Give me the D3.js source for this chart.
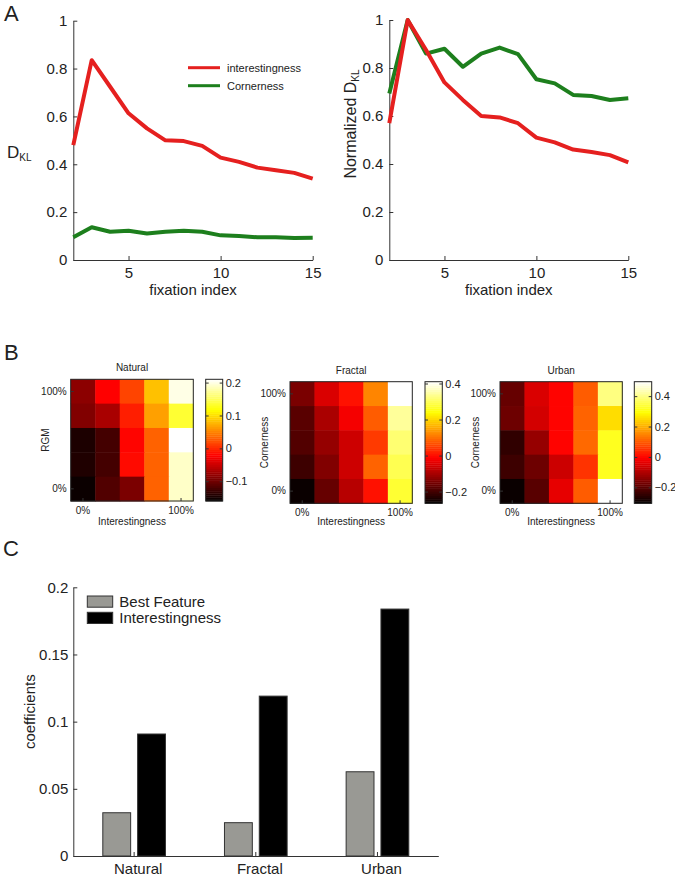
<!DOCTYPE html>
<html><head><meta charset="utf-8">
<script src="https://cdn.jsdelivr.net/npm/d3@7"></script>
<style>
body{margin:0;background:#fff}
svg{display:block}
text{font-family:"Liberation Sans",Arial,Helvetica,sans-serif;fill:#222}
</style>
</head><body>
<svg id="c" width="675" height="877"></svg>
<script>
// ---------- DATA ----------
const fixationIndex = [2,3,4,5,6,7,8,9,10,11,12,13,14,15];
const dklInterestingness = [0.48,0.835,0.724,0.613,0.55,0.50,0.497,0.477,0.428,0.41,0.386,0.375,0.364,0.34];
const dklCornerness      = [0.095,0.137,0.118,0.122,0.111,0.118,0.122,0.118,0.103,0.10,0.095,0.095,0.092,0.093];
const normInterestingness = [0.57,1.0,0.875,0.74,0.667,0.60,0.594,0.57,0.51,0.49,0.46,0.45,0.437,0.407];
const normCornerness      = [0.694,1.0,0.86,0.88,0.805,0.86,0.885,0.858,0.753,0.736,0.688,0.683,0.667,0.674];
const lineTicksX = [5,10,15];
const lineTicksY = [0,0.2,0.4,0.6,0.8,1];
const legendLabelsA = ["interestingness","Cornerness"];

// heatmaps: rows top (100%) -> bottom (0%), columns left (0%) -> right (100%)
const naturalRGM = [
  [-0.084,-0.021, 0.016, 0.084, 0.201],
  [-0.090,-0.068,-0.005, 0.066, 0.136],
  [-0.145,-0.123,-0.019, 0.032, 0.210],
  [-0.143,-0.123,-0.016, 0.032, 0.190],
  [-0.154,-0.116,-0.093, 0.032, 0.190]
];
const fractalCorner = [
  [-0.144,-0.049, 0.005, 0.120, 0.410],
  [-0.177,-0.096,-0.022, 0.079, 0.343],
  [-0.184,-0.117,-0.062, 0.046, 0.316],
  [-0.204,-0.137,-0.062, 0.086, 0.295],
  [-0.255,-0.164,-0.083, 0.005, 0.275]
];
const urbanCorner = [
  [-0.185,-0.049,-0.001, 0.103, 0.395],
  [-0.177,-0.057,-0.001, 0.111, 0.255],
  [-0.249,-0.129,-0.001, 0.119, 0.319],
  [-0.233,-0.177,-0.065, 0.055, 0.319],
  [-0.293,-0.201,-0.033, 0.103, 0.495]
];
const naturalRange = [-0.16, 0.21];
const fractalRange = [-0.265, 0.41];
const urbanRange   = [-0.305, 0.495];
const naturalCbTicks = [-0.1, 0, 0.1, 0.2];
const fractalCbTicks = [-0.2, 0, 0.2, 0.4];
const urbanCbTicks   = [-0.2, 0, 0.2, 0.4];
const heatTitles = ["Natural","Fractal","Urban"];
const heatYLabels = ["RGM","Cornerness","Cornerness"];

// bar chart
const barCategories = ["Natural","Fractal","Urban"];
const bestFeature = [0.0322, 0.0248, 0.0627];
const interestingness = [0.0908, 0.119, 0.1838];
const barSeries = ["Best Feature","Interestingness"];
const barTicksY = [0,0.05,0.1,0.15,0.2];

// ---------- DRAW ----------
const FONT = '"Liberation Sans",Arial,Helvetica,sans-serif';
const svg = d3.select("#c");
svg.append("rect").attr("width",675).attr("height",877).attr("fill","#fff");

function styleAxis(g, fs){
  g.attr("font-family", FONT);
  g.selectAll("path,line").attr("stroke","#333").attr("stroke-width",1);
  g.selectAll("text").attr("font-size",fs).attr("fill","#222");
}
function hot(t){
  t = Math.max(0, Math.min(1, t));
  const r = Math.min(1, t/0.375);
  const g = Math.max(0, Math.min(1, (t-0.375)/0.375));
  const b = Math.max(0, Math.min(1, (t-0.75)/0.25));
  return d3.rgb(r*255, g*255, b*255).toString();
}
const fmtY = d => d===0 ? "0" : d===1 ? "1" : d3.format(".1f")(d);

// Panel labels
[["A",4,21],["B",4,360],["C",3,556]].forEach(([t,x,y])=>{
  svg.append("text").attr("x",x).attr("y",y).attr("font-size",22).text(t);
});

// ---- Panel A ----
const RED = "#e5201f", GREEN = "#1d7f1d";
function linePanel(x0,x1,yTop,yBot,seriesRed,seriesGreen){
  const x = d3.scaleLinear().domain([2,15]).range([x0,x1]);
  const y = d3.scaleLinear().domain([0,1]).range([yBot,yTop]);
  const gx = svg.append("g").attr("transform",`translate(0,${yBot})`)
    .call(d3.axisBottom(x).tickValues(lineTicksX).tickSizeInner(-4).tickSizeOuter(0).tickPadding(7));
  styleAxis(gx,15);
  const gy = svg.append("g").attr("transform",`translate(${x0},0)`)
    .call(d3.axisLeft(y).tickValues(lineTicksY).tickFormat(fmtY).tickSizeInner(-4).tickSizeOuter(0).tickPadding(6));
  styleAxis(gy,15);
  const line = d3.line().x((d,i)=>x(fixationIndex[i])).y(d=>y(d));
  svg.append("path").datum(seriesGreen).attr("d",line).attr("fill","none")
    .attr("stroke",GREEN).attr("stroke-width",4).attr("stroke-linejoin","round");
  svg.append("path").datum(seriesRed).attr("d",line).attr("fill","none")
    .attr("stroke",RED).attr("stroke-width",4).attr("stroke-linejoin","round");
  svg.append("text").attr("x",(x0+x1)/2).attr("y",295).attr("text-anchor","middle")
    .attr("font-size",15).text("fixation index");
  return {x,y};
}
linePanel(73.3,312.7,20.7,260,dklInterestingness,dklCornerness);
linePanel(389.3,628.3,20,260,normInterestingness,normCornerness);

// y labels
const dl = svg.append("text").attr("x",7).attr("y",158).attr("font-size",17);
dl.append("tspan").text("D");
dl.append("tspan").attr("font-size",10).attr("dy",3).text("KL");
const nl = svg.append("text").attr("transform","translate(356,124) rotate(-90)")
  .attr("text-anchor","middle").attr("font-size",16);
nl.append("tspan").text("Normalized D");
nl.append("tspan").attr("font-size",10).attr("dy",3).text("KL");

// legend A
[[RED,67.7],[GREEN,85.7]].forEach(([c,yy],i)=>{
  svg.append("line").attr("x1",188).attr("x2",220).attr("y1",yy).attr("y2",yy)
    .attr("stroke",c).attr("stroke-width",3);
  svg.append("text").attr("x",227).attr("y",yy+4).attr("font-size",11).text(legendLabelsA[i]);
});

// ---- Panel B ----
function heatmap(data, range, cbTicks, title, ylab, g){
  const xb = d3.scaleBand().domain(d3.range(5)).range([g.x0,g.x1]);
  const yb = d3.scaleBand().domain(d3.range(5)).range([g.y0,g.y1]);
  const color = d3.scaleSequential(hot).domain(range);
  const cells = [];
  data.forEach((row,r)=>row.forEach((v,c)=>cells.push({r,c,v})));
  svg.append("g").selectAll("rect").data(cells).join("rect")
    .attr("x",d=>xb(d.c)).attr("y",d=>yb(d.r))
    .attr("width",xb.bandwidth()+0.5).attr("height",yb.bandwidth()+0.5)
    .attr("fill",d=>color(d.v));
  svg.append("rect").attr("x",g.x0).attr("y",g.y0).attr("width",g.x1-g.x0).attr("height",g.y1-g.y0)
    .attr("fill","none").attr("stroke","#222").attr("stroke-width",1);
  const ga = svg.append("g").attr("transform",`translate(${g.x0},0)`)
    .call(d3.axisLeft(yb).tickValues([0,4]).tickFormat(i=>i===0?"100%":"0%").tickSizeInner(-3).tickSizeOuter(0).tickPadding(4));
  styleAxis(ga,10); ga.select(".domain").remove();
  const gb = svg.append("g").attr("transform",`translate(0,${g.y1})`)
    .call(d3.axisBottom(xb).tickValues([0,4]).tickFormat(i=>i===0?"0%":"100%").tickSizeInner(-3).tickSizeOuter(0).tickPadding(6));
  styleAxis(gb,10); gb.select(".domain").remove();
  svg.append("text").attr("x",(g.x0+g.x1)/2).attr("y",g.y0-8).attr("text-anchor","middle")
    .attr("font-size",10).text(title);
  svg.append("text").attr("x",(g.x0+g.x1)/2).attr("y",525).attr("text-anchor","middle")
    .attr("font-size",10).text("Interestingness");
  svg.append("text").attr("transform",`translate(${g.ylx},${(g.y0+g.y1)/2}) rotate(-90)`)
    .attr("text-anchor","middle").attr("dy","0.35em").attr("font-size",10).text(ylab);
  // colorbar
  const cb = d3.scaleLinear().domain(range).range([g.y1,g.y0]);
  const n = 64, step = (range[1]-range[0])/n;
  svg.append("g").selectAll("rect").data(d3.range(n)).join("rect")
    .attr("x",g.cx0).attr("width",g.cx1-g.cx0)
    .attr("y",k=>cb(range[0]+(k+1)*step)).attr("height",k=>cb(range[0]+k*step)-cb(range[0]+(k+1)*step)+0.4)
    .attr("fill",k=>hot((k+0.5)/n));
  svg.append("rect").attr("x",g.cx0).attr("y",g.y0).attr("width",g.cx1-g.cx0).attr("height",g.y1-g.y0)
    .attr("fill","none").attr("stroke","#222").attr("stroke-width",1);
  const gr = svg.append("g").attr("transform",`translate(${g.cx1},0)`)
    .call(d3.axisRight(cb).tickValues(cbTicks).tickFormat(fmtY).tickSizeInner(-3).tickSizeOuter(0).tickPadding(3));
  styleAxis(gr,11); gr.select(".domain").remove();
  const gl = svg.append("g").attr("transform",`translate(${g.cx0},0)`)
    .call(d3.axisLeft(cb).tickValues(cbTicks).tickFormat("").tickSizeInner(-3).tickSizeOuter(0));
  styleAxis(gl,11); gl.select(".domain").remove();
}
heatmap(naturalRGM, naturalRange, naturalCbTicks, heatTitles[0], heatYLabels[0],
  {x0:70.7,x1:193.3,y0:379.3,y1:501,cx0:205.7,cx1:222.7,ylx:45});
heatmap(fractalCorner, fractalRange, fractalCbTicks, heatTitles[1], heatYLabels[1],
  {x0:290,x1:412.3,y0:381.7,y1:503.3,cx0:425,cx1:442.3,ylx:264.3});
heatmap(urbanCorner, urbanRange, urbanCbTicks, heatTitles[2], heatYLabels[2],
  {x0:500,x1:622.3,y0:381.7,y1:503.3,cx0:634.3,cx1:651.7,ylx:475});

// ---- Panel C ----
const bx = d3.scaleBand().domain(barCategories).range([73.3,438.3]).paddingInner(0.485).paddingOuter(0.2425);
const bsub = d3.scaleBand().domain(barSeries).range([0,bx.bandwidth()]).paddingInner(0.2);
const by = d3.scaleLinear().domain([0,0.2]).range([856,587.3]);
const barFill = {"Best Feature":"#999994","Interestingness":"#000"};
const barRows = barCategories.map((c,i)=>({c, vals:[bestFeature[i], interestingness[i]]}));
const gc = svg.append("g");
gc.selectAll("g").data(barRows).join("g")
  .attr("transform",d=>`translate(${bx(d.c)},0)`)
  .selectAll("rect").data(d=>d.vals.map((v,j)=>({s:barSeries[j],v}))).join("rect")
  .attr("x",d=>bsub(d.s)).attr("width",bsub.bandwidth())
  .attr("y",d=>by(d.v)).attr("height",d=>by(0)-by(d.v))
  .attr("fill",d=>barFill[d.s]).attr("stroke","#333").attr("stroke-width",1);
const gcx = svg.append("g").attr("transform","translate(0,856)")
  .call(d3.axisBottom(bx).tickSizeInner(-4).tickSizeOuter(0).tickPadding(7));
styleAxis(gcx,15); gcx.selectAll("text").attr("dx",4);
const gcy = svg.append("g").attr("transform","translate(73.3,0)")
  .call(d3.axisLeft(by).tickValues(barTicksY).tickFormat(d=>d===0?"0":String(+d.toFixed(2))).tickSizeInner(-4).tickSizeOuter(0).tickPadding(5));
styleAxis(gcy,15);
svg.append("text").attr("transform","translate(30,711.7) rotate(-90)").attr("text-anchor","middle")
  .attr("dy","0.3em").attr("font-size",15).text("coefficients");
// legend C
barSeries.forEach((s,i)=>{
  const yy = 596 + i*16.3;
  svg.append("rect").attr("x",87.3).attr("y",yy).attr("width",25.4).attr("height",11.2)
    .attr("fill",barFill[s]).attr("stroke","#333").attr("stroke-width",1);
  svg.append("text").attr("x",119.3).attr("y",yy+10.5).attr("font-size",15).text(s);
});
</script>
</body></html>
